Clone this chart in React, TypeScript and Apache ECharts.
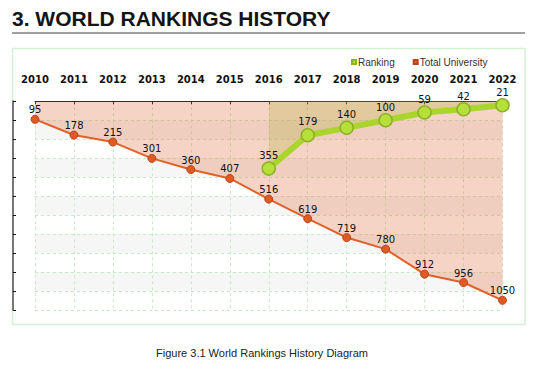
import React, { useEffect, useRef } from "react";
import * as echarts from "echarts";

const years = ["2010","2011","2012","2013","2014","2015","2016","2017","2018","2019","2020","2021","2022"];
const ranking = [null, null, null, null, null, null, 355, 179, 140, 100, 59, 42, 21];
const totalUniversity = [95, 178, 215, 301, 360, 407, 516, 619, 719, 780, 912, 956, 1050];

export default function App() {
  const ref = useRef<HTMLDivElement>(null);
  useEffect(() => {
    document.body.style.margin = "0";
    const chart = echarts.init(ref.current!, null, { renderer: "svg" });
    chart.setOption({
      animation: false,
      backgroundColor: "#ffffff",
      graphic: [
        { type: "text", left: 12, top: 8, style: { text: "3. WORLD RANKINGS HISTORY", font: "bold 21px 'Liberation Sans', Arial, sans-serif", fill: "#141414" } },
        { type: "rect", shape: { x: 12, y: 32, width: 513, height: 2 }, style: { fill: "#a0a0a0" } },
        { type: "rect", z: -10, shape: { x: 12.5, y: 48.5, width: 512.5, height: 276 }, style: { fill: "none", stroke: "#d6f0d6", lineWidth: 1.5 } },
        { type: "text", x: 262, y: 353, style: { text: "Figure 3.1 World Rankings History Diagram", font: "11px 'Liberation Sans', Arial, sans-serif", fill: "#222", align: "center", verticalAlign: "middle" } },
      ],
      legend: {
        left: 346,
        top: 52,
        icon: "rect",
        itemWidth: 4,
        itemHeight: 4,
        itemGap: 18,
        textStyle: { fontFamily: "'Liberation Sans', Arial, sans-serif", fontSize: 10, color: "#333", padding: [0, 0, 0, -3] },
        data: ["Ranking", "Total University"],
      },
      grid: { left: 35, right: 38.5, top: 101.3, bottom: 71.2, containLabel: false },
      xAxis: {
        type: "category",
        data: years,
        position: "top",
        offset: 14,
        boundaryGap: false,
        axisLine: { show: true, lineStyle: { color: "#111", width: 1 } },
        axisTick: { show: true, inside: true, length: 3, lineStyle: { color: "#111" } },
        axisLabel: { color: "#111", fontFamily: "'DejaVu Sans', sans-serif", fontWeight: "bold", fontSize: 10, margin: 3 },
        splitLine: { show: true, lineStyle: { color: "#c9eac9", type: [3, 3], width: 1 } },
      },
      yAxis: {
        type: "value",
        inverse: true,
        min: 0,
        max: 1100,
        interval: 100,
        position: "left",
        offset: 22,
        axisLine: { show: true, lineStyle: { color: "#777", width: 2 } },
        axisTick: { show: true, inside: true, length: 3, lineStyle: { color: "#111" } },
        axisLabel: { show: false },
        splitLine: { show: true, lineStyle: { color: "#c9eac9", type: [3, 3], width: 1 } },
        splitArea: { show: true, areaStyle: { color: ["rgba(255,255,255,0)", "#f6f6f6"] } },
      },
      series: [
        {
          name: "Total University",
          type: "line",
          data: totalUniversity,
          z: 2,
          symbol: "circle",
          symbolSize: 8,
          lineStyle: { color: "#e0602a", width: 2 },
          itemStyle: { color: "#e05a24", borderColor: "#b5461a", borderWidth: 1 },
          areaStyle: { color: "#e07040", opacity: 0.3, origin: "start" },
          label: { show: true, position: "top", distance: 0, color: "#111", fontFamily: "'DejaVu Sans', sans-serif", fontSize: 10 },
        },
        {
          name: "Ranking",
          type: "line",
          data: ranking,
          z: 3,
          symbol: "circle",
          symbolSize: 13,
          lineStyle: { color: "#a9d52c", width: 6 },
          itemStyle: { color: "#b6df3a", borderColor: "#8cb126", borderWidth: 1.5 },
          areaStyle: { color: "rgb(180,175,70)", opacity: 0.3, origin: "start" },
          label: { show: true, position: "top", distance: 1, color: "#111", fontFamily: "'DejaVu Sans', sans-serif", fontSize: 10 },
        },
      ],
    });
    return () => chart.dispose();
  }, []);
  return <div ref={ref} style={{ width: 541, height: 381 }} />;
}
